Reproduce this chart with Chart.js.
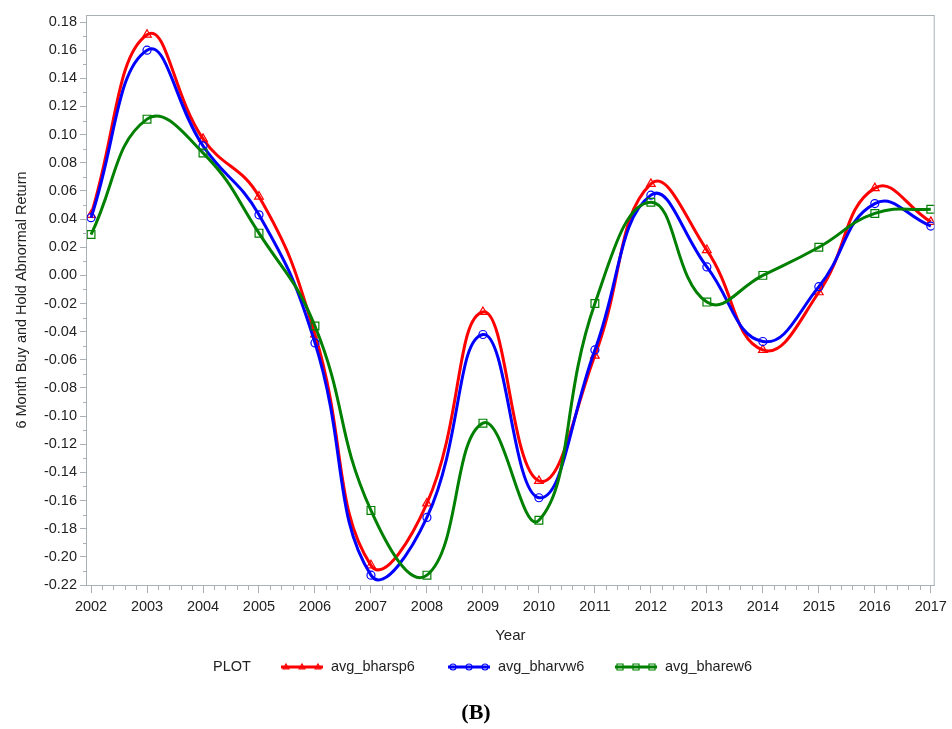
<!DOCTYPE html>
<html lang="en">
<head>
  <meta charset="UTF-8">
  <title>6 Month Buy and Hold Abnormal Return (B)</title>
  <script src="https://cdn.jsdelivr.net/npm/chart.js"></script>
  <style>
    body {
      margin: 0;
      background: #fff;
      font-family: 'Liberation Sans', Arial, sans-serif;
    }
    #wrap {
      position: relative;
      width: 952px;
      height: 729px;
    }
    #panelLabel {
      position: absolute;
      left: 0;
      top: 699px;
      width: 952px;
      text-align: center;
      font-family: 'Liberation Serif', 'Times New Roman', serif;
      font-weight: bold;
      font-size: 22px;
      color: #000;
    }
  </style>
</head>
<body>
  <div id="wrap">
    <canvas id="bharChart" width="952" height="729"></canvas>
    <div id="panelLabel">(B)</div>
  </div>

<script>
  // data (markers at each year)
  const years = [2002, 2003, 2004, 2005, 2006, 2007, 2008, 2009, 2010, 2011, 2012, 2013, 2014, 2015, 2016, 2017];
  const bharsp6 = [0.043, 0.171, 0.097, 0.056, -0.042, -0.206, -0.162, -0.026, -0.146, -0.057, 0.065, 0.018, -0.053, -0.012, 0.062, 0.038];
  const bharvw6 = [0.041, 0.160, 0.092, 0.043, -0.048, -0.213, -0.172, -0.042, -0.158, -0.053, 0.057, 0.006, -0.047, -0.008, 0.051, 0.035];
  const bharew6 = [0.029, 0.111, 0.087, 0.030, -0.036, -0.167, -0.213, -0.105, -0.174, -0.020, 0.052, -0.019, 0.000, 0.020, 0.044, 0.047];
  const yTicks = [-0.22, -0.20, -0.18, -0.16, -0.14, -0.12, -0.10, -0.08, -0.06, -0.04, -0.02, 0.00,
                  0.02, 0.04, 0.06, 0.08, 0.10, 0.12, 0.14, 0.16, 0.18];

  const RED = '#ff0000';
  const BLUE = '#0000ff';
  const GREEN = '#008000';
  const axisGrey = '#a9b1b5';
  const textCol = '#222';

  Chart.defaults.font.family = "'Liberation Sans', Arial, sans-serif";
  Chart.defaults.font.size = 14.5;
  Chart.defaults.color = textCol;

  function pts(vals) {
    return years.map((yr, i) => ({ x: yr, y: vals[i] }));
  }

  function drawMarker(ctx, kind, x, y, r) {
    ctx.beginPath();
    if (kind === 'triangle') {
      ctx.moveTo(x, y - r);
      ctx.lineTo(x + r * 0.95, y + r * 0.6);
      ctx.lineTo(x - r * 0.95, y + r * 0.6);
      ctx.closePath();
    } else if (kind === 'circle') {
      ctx.arc(x, y, r, 0, Math.PI * 2);
    } else {
      ctx.rect(x - r, y - r, 2 * r, 2 * r);
    }
    ctx.stroke();
  }

  const legendItems = [
    { label: 'avg_bharsp6', color: RED, marker: 'triangle', x: 281 },
    { label: 'avg_bharvw6', color: BLUE, marker: 'circle', x: 448 },
    { label: 'avg_bharew6', color: GREEN, marker: 'square', x: 615 }
  ];

  // frame, minor ticks and the SAS style legend
  const decor = {
    id: 'decor',
    afterDraw(chart) {
      const ctx = chart.ctx;
      const a = chart.chartArea;
      const xs = chart.scales.x;
      const ys = chart.scales.y;
      ctx.save();
      ctx.strokeStyle = axisGrey;
      ctx.lineWidth = 1;
      ctx.strokeRect(a.left + 0.5, a.top + 0.5, a.right - a.left - 1, a.bottom - a.top);

      ctx.beginPath();
      for (let yr = years[0]; yr < years[years.length - 1]; yr++) {
        for (let k = 1; k < 5; k++) {
          const px = Math.round(xs.getPixelForValue(yr + k * 0.2)) + 0.5;
          ctx.moveTo(px, a.bottom);
          ctx.lineTo(px, a.bottom + 5);
        }
      }
      for (let i = 0; i < yTicks.length - 1; i++) {
        const py = Math.round(ys.getPixelForValue((yTicks[i] + yTicks[i + 1]) / 2)) + 0.5;
        ctx.moveTo(a.left, py);
        ctx.lineTo(a.left - 3, py);
      }
      ctx.stroke();

      // legend
      const ly = 667;
      ctx.fillStyle = textCol;
      ctx.font = "14.5px 'Liberation Sans', Arial, sans-serif";
      ctx.textBaseline = 'middle';
      ctx.textAlign = 'left';
      ctx.fillText('PLOT', 213, ly);
      legendItems.forEach(it => {
        ctx.strokeStyle = it.color;
        ctx.lineWidth = 3;
        ctx.beginPath();
        ctx.moveTo(it.x, ly);
        ctx.lineTo(it.x + 42, ly);
        ctx.stroke();
        ctx.lineWidth = 1.2;
        [5, 21, 37].forEach(dx => drawMarker(ctx, it.marker, it.x + dx, ly, 3));
        ctx.fillStyle = textCol;
        ctx.fillText(it.label, it.x + 50, ly);
      });
      ctx.restore();
    }
  };

  const seriesStyle = (label, vals, color, style, radius, order) => ({
    label,
    data: pts(vals),
    borderColor: color,
    backgroundColor: 'rgba(0,0,0,0)',
    borderWidth: 3,
    tension: 0.45,
    pointStyle: style,
    pointRadius: radius,
    pointBorderWidth: 1.2,
    pointBorderColor: color,
    pointBackgroundColor: 'rgba(0,0,0,0)',
    order
  });

  const bharChart = new Chart(document.getElementById('bharChart').getContext('2d'), {
    type: 'line',
    data: {
      datasets: [
        seriesStyle('avg_bharsp6', bharsp6, RED, 'triangle', 5, 2),
        seriesStyle('avg_bharvw6', bharvw6, BLUE, 'circle', 4, 1),
        seriesStyle('avg_bharew6', bharew6, GREEN, 'rect', 5.5, 0)
      ]
    },
    options: {
      responsive: false,
      animation: false,
      devicePixelRatio: 1,
      layout: { padding: { left: 2, right: 17, top: 15, bottom: 0 } },
      elements: { line: { capBezierPoints: false } },
      plugins: {
        legend: { display: false },
        tooltip: { enabled: false }
      },
      scales: {
        x: {
          type: 'linear',
          min: 2001.91,
          max: 2017.07,
          afterBuildTicks: s => { s.ticks = years.map(v => ({ value: v })); },
          afterFit: s => { s.height = 144; },
          grid: { drawOnChartArea: false, drawTicks: true, tickLength: 8, tickColor: axisGrey },
          border: { display: true, color: axisGrey },
          ticks: { color: textCol, padding: 5, maxRotation: 0, autoSkip: false, callback: v => String(v) },
          title: { display: true, text: 'Year', color: textCol, font: { size: 15 }, padding: { top: 0, bottom: 84 } }
        },
        y: {
          min: -0.22,
          max: 0.185,
          afterBuildTicks: s => { s.ticks = yTicks.map(v => ({ value: v })); },
          afterFit: s => { s.width = 84; },
          grid: { drawOnChartArea: false, drawTicks: true, tickLength: 6, tickColor: axisGrey },
          border: { display: true, color: axisGrey },
          ticks: { color: textCol, padding: 3, callback: v => v.toFixed(2) },
          title: { display: true, text: '6 Month Buy and Hold Abnormal Return', color: textCol, font: { size: 14.5 }, padding: { top: 11, bottom: 0 } }
        }
      }
    },
    plugins: [decor]
  });
</script>
</body>
</html>
